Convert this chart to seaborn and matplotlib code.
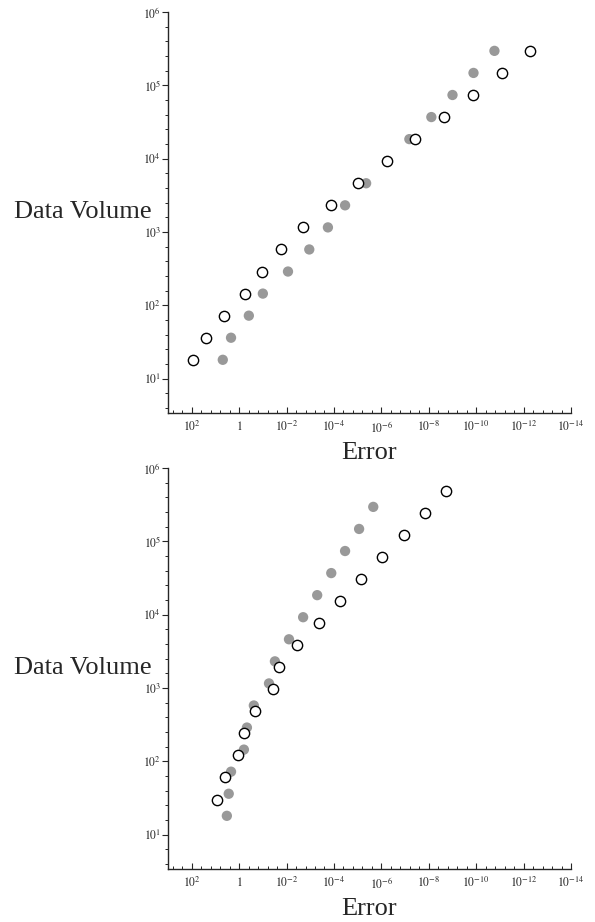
import numpy as np
import pandas as pd
import matplotlib
matplotlib.use('Agg')
import matplotlib.pyplot as plt
import matplotlib.ticker as mticker
import seaborn as sns

# Data volume (y) and error (x)
top_volume = [18, 36, 72, 144, 288, 576, 1152, 2304, 4608, 9216, 18432, 36864, 73728, 147456, 294912]
top_err_open = [9.1e1, 2.6e1, 4.5e0, 5.8e-1, 1.1e-1, 1.7e-2, 2.0e-3, 1.4e-4, 9.5e-6, 5.6e-7,
                3.7e-8, 2.2e-9, 1.4e-10, 8.5e-12, 5.6e-13]
top_err_gray = [4.9e0, 2.2e0, 3.9e-1, 1.0e-1, 8.7e-3, 1.1e-3, 1.8e-4, 3.4e-5, 4.4e-6, 5.6e-7,
                6.6e-8, 7.8e-9, 1.0e-9, 1.3e-10, 1.7e-11]

bottom_volume_open = [30, 60, 120, 240, 480, 960, 1920, 3840, 7680, 15360, 30720, 61440, 122880, 245760, 491520]
bottom_volume_gray = [18, 36, 72, 144, 288, 576, 1152, 2304, 4608, 9216, 18432, 36864, 73728, 147456, 294912]
bottom_err_open = [8.7e0, 4.0e0, 1.1e0, 6.3e-1, 2.2e-1, 3.8e-2, 2.1e-2, 3.6e-3, 4.3e-4, 5.5e-5,
                   7.1e-6, 9.3e-7, 1.1e-7, 1.4e-8, 1.8e-9]
bottom_err_gray = [3.3e0, 2.75e0, 2.2e0, 6.3e-1, 4.7e-1, 2.4e-1, 5.5e-2, 3.1e-2, 7.9e-3, 2.0e-3,
                   5.1e-4, 1.3e-4, 3.4e-5, 8.7e-6, 2.2e-6]

x_major = [1e2, 1e0, 1e-2, 1e-4, 1e-6, 1e-8, 1e-10, 1e-12, 1e-14]
y_major = [1e1, 1e2, 1e3, 1e4, 1e5, 1e6]

sns.set_style('ticks')
plt.rcParams['font.family'] = ['Liberation Serif', 'DejaVu Serif']
plt.rcParams['mathtext.fontset'] = 'stix'


def fmt(v, pos):
    k = int(round(np.log10(v)))
    if k == 0:
        return '$1$'
    return '$10^{%d}$' % k


def panel(ax, err_gray, vol_gray, err_open, vol_open):
    gray = pd.DataFrame({'err': err_gray, 'vol': vol_gray})
    opn = pd.DataFrame({'err': err_open, 'vol': vol_open})
    sns.scatterplot(data=gray, x='err', y='vol', ax=ax, color='#999999', s=55,
                    edgecolor='none', zorder=2)
    sns.scatterplot(data=opn, x='err', y='vol', ax=ax, color='white', s=55,
                    edgecolor='black', linewidth=1.0, zorder=3)
    ax.set_xscale('log')
    ax.set_yscale('log')
    ax.set_xlim(1e3, 1e-14)
    ax.set_ylim(10 ** 0.53, 1e6)
    ax.xaxis.set_major_locator(mticker.FixedLocator(x_major))
    ax.xaxis.set_minor_locator(mticker.FixedLocator(10 ** np.arange(2.8, -14, -0.4)))
    ax.yaxis.set_major_locator(mticker.FixedLocator(y_major))
    ax.yaxis.set_minor_locator(mticker.FixedLocator(10 ** np.arange(0.6, 6.0, 0.2)))
    ax.xaxis.set_major_formatter(mticker.FuncFormatter(fmt))
    ax.yaxis.set_major_formatter(mticker.FuncFormatter(fmt))
    ax.xaxis.set_minor_formatter(mticker.NullFormatter())
    ax.yaxis.set_minor_formatter(mticker.NullFormatter())
    ax.tick_params(axis='x', which='major', direction='in', length=4, width=0.8, labelsize=8.5, pad=5)
    ax.tick_params(axis='x', which='minor', direction='in', length=2.5, width=0.7)
    ax.tick_params(axis='y', which='major', direction='out', length=4, width=0.8, labelsize=8.5, pad=1)
    ax.tick_params(axis='y', which='minor', direction='out', length=2.5, width=0.7)
    for s in ['left', 'bottom']:
        ax.spines[s].set_linewidth(1.0)
    sns.despine(ax=ax)
    ax.set_xlabel('Error', fontsize=19)
    ax.set_ylabel('Data Volume', fontsize=19, rotation=0, ha='right', va='center')
    ax.xaxis.set_label_coords(0.5, -0.1)
    ax.yaxis.set_label_coords(-0.04, 0.5)
    ax.xaxis.label.set_va('center')


fig = plt.figure(figsize=(5.95, 9.22), dpi=100)
ax1 = fig.add_axes([0.2824, 0.5521, 0.6773, 0.4349])
ax2 = fig.add_axes([0.2824, 0.0575, 0.6773, 0.4349])

panel(ax1, top_err_gray, top_volume, top_err_open, top_volume)
panel(ax2, bottom_err_gray, bottom_volume_gray, bottom_err_open, bottom_volume_open)

fig.savefig('out.png', dpi=100, facecolor='white')
